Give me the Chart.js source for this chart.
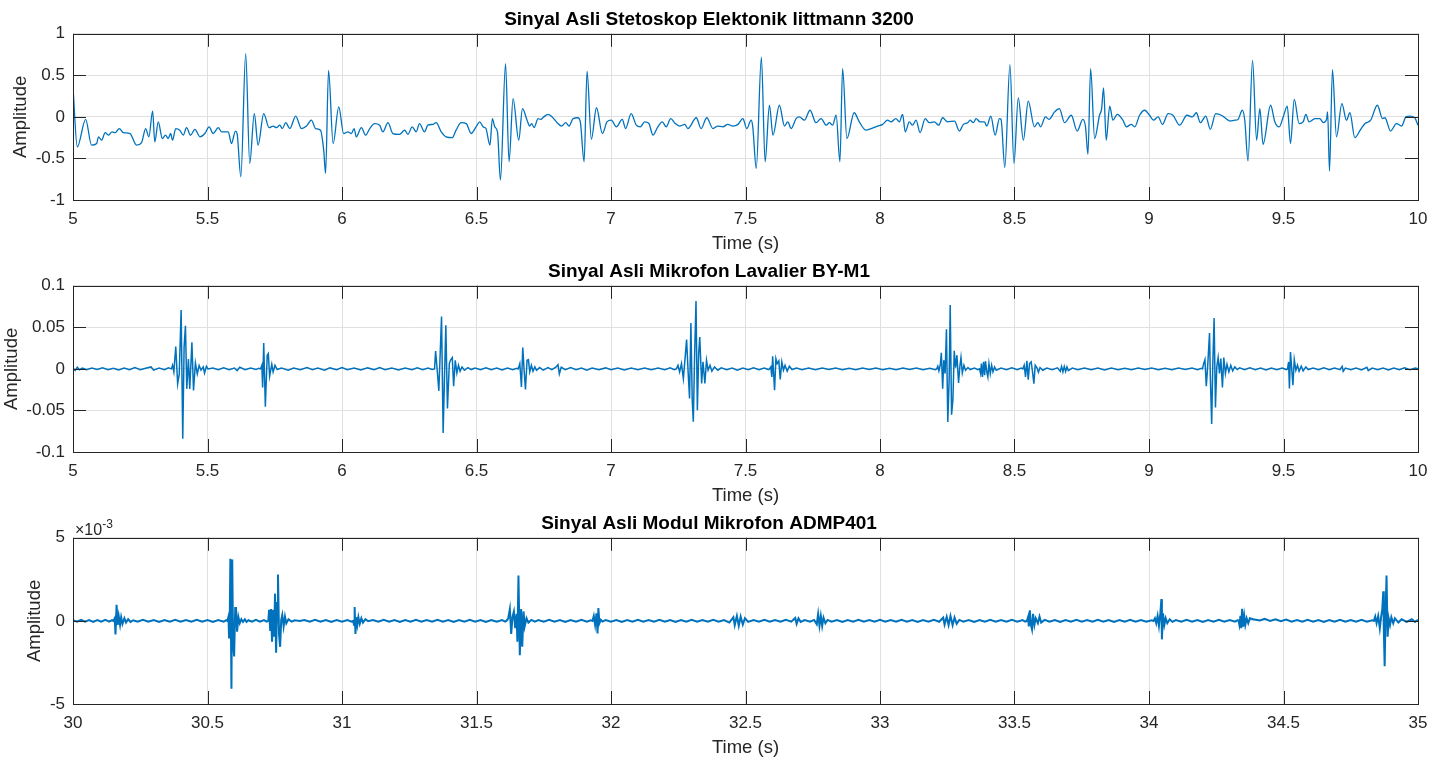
<!DOCTYPE html>
<html>
<head>
<meta charset="utf-8">
<title>Sinyal Asli</title>
<script src="https://cdn.jsdelivr.net/npm/chart.js@4.4.0/dist/chart.umd.min.js"></script>
<style>
  html, body { margin: 0; padding: 0; background: #fff; }
  body { width: 1447px; height: 762px; position: relative; overflow: hidden; }
  canvas { position: absolute; left: 0; }
</style>
</head>
<body>
<canvas id="chartSteto" width="1447" height="255" style="top:0px"></canvas>
<canvas id="chartLav" width="1447" height="255" style="top:252px"></canvas>
<canvas id="chartAdmp" width="1447" height="255" style="top:504px"></canvas>
<script>
// Sumbu waktu & label tick
const timeTicks1 = [5, 5.5, 6, 6.5, 7, 7.5, 8, 8.5, 9, 9.5, 10];
const timeLabels1 = ["5", "5.5", "6", "6.5", "7", "7.5", "8", "8.5", "9", "9.5", "10"];
const timeTicks3 = [30, 30.5, 31, 31.5, 32, 32.5, 33, 33.5, 34, 34.5, 35];
const timeLabels3 = ["30", "30.5", "31", "31.5", "32", "32.5", "33", "33.5", "34", "34.5", "35"];

const ampTicks1 = [-1, -0.5, 0, 0.5, 1];
const ampLabels1 = ["-1", "-0.5", "0", "0.5", "1"];
const ampTicks2 = [-0.1, -0.05, 0, 0.05, 0.1];
const ampLabels2 = ["-0.1", "-0.05", "0", "0.05", "0.1"];
const ampTicks3 = [-5, 0, 5];
const ampLabels3 = ["-5", "0", "5"];

// Sinyal stetoskop [waktu (s), amplitudo]
const stetoskop = [
  [5.000,0.35],[5.016,-0.36],[5.047,-0.03],[5.069,-0.34],[5.088,-0.32],[5.095,-0.24],[5.106,-0.28],[5.120,-0.19],
  [5.131,-0.22],[5.145,-0.18],[5.157,-0.19],[5.172,-0.14],[5.187,-0.19],[5.212,-0.20],[5.236,-0.34],[5.255,-0.31],
  [5.270,-0.14],[5.282,-0.24],[5.296,0.07],[5.304,-0.30],[5.317,-0.06],[5.332,-0.26],[5.344,-0.22],[5.354,-0.26],
  [5.363,-0.20],[5.370,-0.28],[5.382,-0.14],[5.397,-0.16],[5.410,-0.22],[5.422,-0.13],[5.437,-0.22],[5.453,-0.15],
  [5.472,-0.24],[5.490,-0.20],[5.506,-0.12],[5.521,-0.20],[5.540,-0.13],[5.552,-0.18],[5.577,-0.18],[5.589,-0.32],
  [5.604,-0.17],[5.610,-0.20],[5.624,-0.72],[5.642,0.76],[5.657,-0.56],[5.674,0.04],[5.688,-0.34],[5.709,0.04],
  [5.729,-0.13],[5.744,-0.11],[5.756,-0.13],[5.769,-0.10],[5.778,-0.14],[5.791,-0.07],[5.806,-0.14],[5.828,0.01],
  [5.849,-0.14],[5.868,-0.11],[5.886,-0.04],[5.902,-0.14],[5.920,-0.16],[5.932,-0.40],[5.939,-0.68],[5.950,0.56],
  [5.967,-0.32],[5.988,0.12],[6.006,-0.20],[6.022,-0.18],[6.035,-0.20],[6.045,-0.14],[6.053,-0.24],[6.072,-0.13],
  [6.088,-0.22],[6.103,-0.14],[6.121,-0.08],[6.140,-0.10],[6.152,-0.18],[6.171,-0.07],[6.189,-0.20],[6.214,-0.21],
  [6.233,-0.16],[6.245,-0.21],[6.261,-0.12],[6.276,-0.18],[6.288,-0.08],[6.307,-0.18],[6.319,-0.10],[6.338,-0.09],
  [6.350,-0.07],[6.369,-0.18],[6.387,-0.24],[6.410,-0.25],[6.424,-0.16],[6.443,-0.07],[6.462,-0.08],[6.480,-0.20],
  [6.500,-0.11],[6.512,-0.06],[6.525,-0.12],[6.535,-0.14],[6.550,-0.34],[6.559,-0.02],[6.568,-0.12],[6.578,-0.18],
  [6.589,-0.76],[6.608,0.64],[6.621,-0.54],[6.636,0.22],[6.657,-0.28],[6.671,0.10],[6.688,-0.04],[6.698,-0.11],
  [6.705,-0.08],[6.714,-0.13],[6.729,-0.02],[6.739,-0.03],[6.750,0.00],[6.766,0.03],[6.781,0.00],[6.800,-0.07],
  [6.816,-0.11],[6.832,-0.07],[6.844,-0.11],[6.859,-0.02],[6.877,-0.01],[6.886,-0.06],[6.900,-0.54],[6.911,0.55],
  [6.927,-0.27],[6.946,0.11],[6.968,-0.20],[6.985,-0.06],[7.001,-0.04],[7.020,-0.12],[7.042,-0.03],[7.054,-0.14],
  [7.075,0.04],[7.094,-0.10],[7.109,-0.12],[7.125,-0.06],[7.141,-0.08],[7.156,-0.22],[7.174,-0.12],[7.191,-0.06],
  [7.205,-0.12],[7.222,-0.02],[7.239,-0.08],[7.255,-0.11],[7.274,-0.09],[7.286,-0.14],[7.317,-0.01],[7.335,-0.14],
  [7.356,-0.01],[7.379,-0.14],[7.397,-0.11],[7.416,-0.12],[7.434,-0.09],[7.453,-0.11],[7.472,-0.09],[7.490,-0.02],
  [7.505,-0.14],[7.521,-0.04],[7.527,-0.12],[7.540,-0.62],[7.559,0.72],[7.573,-0.54],[7.589,0.14],[7.602,-0.22],
  [7.626,0.14],[7.645,-0.11],[7.657,-0.06],[7.670,-0.14],[7.688,-0.02],[7.700,0.00],[7.719,-0.04],[7.740,0.08],
  [7.762,-0.07],[7.781,-0.02],[7.800,-0.10],[7.812,-0.07],[7.824,-0.10],[7.837,0.02],[7.851,-0.54],[7.861,0.58],
  [7.877,-0.26],[7.904,0.05],[7.923,-0.06],[7.948,-0.16],[7.967,-0.14],[7.991,-0.11],[8.010,-0.09],[8.028,-0.04],
  [8.041,-0.06],[8.059,-0.02],[8.072,-0.06],[8.084,0.03],[8.094,-0.18],[8.109,-0.06],[8.121,-0.10],[8.134,-0.04],
  [8.149,-0.19],[8.168,-0.02],[8.183,-0.07],[8.202,-0.06],[8.218,-0.10],[8.233,-0.01],[8.251,-0.06],[8.277,-0.05],
  [8.295,-0.17],[8.310,-0.09],[8.326,-0.07],[8.335,-0.04],[8.347,-0.07],[8.357,-0.02],[8.372,-0.06],[8.388,-0.06],
  [8.397,-0.11],[8.412,0.01],[8.428,-0.22],[8.444,-0.02],[8.450,-0.03],[8.464,-0.61],[8.483,0.63],[8.498,-0.56],
  [8.514,0.23],[8.533,-0.28],[8.551,0.19],[8.574,-0.12],[8.587,-0.07],[8.597,-0.12],[8.615,0.00],[8.628,-0.03],
  [8.649,0.06],[8.667,0.10],[8.686,-0.07],[8.711,0.02],[8.733,-0.17],[8.754,-0.03],[8.764,-0.12],[8.773,-0.45],
  [8.783,0.58],[8.798,-0.26],[8.816,0.02],[8.824,0.10],[8.831,0.35],[8.841,-0.28],[8.854,0.13],[8.866,-0.04],
  [8.882,0.03],[8.903,-0.04],[8.916,-0.12],[8.934,-0.09],[8.947,-0.12],[8.965,0.02],[8.984,0.08],[9.002,0.02],
  [9.017,-0.04],[9.034,0.00],[9.050,-0.09],[9.071,0.04],[9.089,0.02],[9.114,-0.10],[9.141,0.02],[9.161,0.00],
  [9.176,0.05],[9.191,-0.07],[9.211,0.01],[9.228,-0.15],[9.248,0.04],[9.269,0.02],[9.282,-0.01],[9.300,-0.05],
  [9.319,-0.04],[9.331,-0.03],[9.347,0.08],[9.356,-0.04],[9.368,-0.53],[9.385,0.68],[9.400,-0.28],[9.412,0.10],
  [9.424,-0.33],[9.452,0.14],[9.468,-0.06],[9.484,-0.12],[9.499,0.00],[9.514,0.13],[9.526,-0.32],[9.540,0.21],
  [9.558,-0.08],[9.573,-0.06],[9.583,0.03],[9.595,-0.06],[9.617,-0.02],[9.635,-0.02],[9.648,-0.07],[9.660,-0.03],
  [9.664,0.06],[9.671,-0.65],[9.682,0.57],[9.697,-0.24],[9.717,0.16],[9.734,-0.04],[9.747,0.05],[9.765,-0.25],
  [9.787,-0.15],[9.803,-0.08],[9.824,-0.04],[9.849,0.14],[9.868,-0.02],[9.877,-0.01],[9.898,-0.17],[9.920,-0.08],
  [9.939,-0.11],[9.955,0.00],[9.970,0.01],[9.988,-0.01],[10.000,-0.10]
];

// Sinyal mikrofon lavalier [waktu (s), amplitudo]
const lavalier = [
  [5.000,0.001],[5.008,-0.002],[5.016,0.002],[5.024,-0.001],[5.035,0.001],[5.050,-0.001],[5.070,0.001],[5.090,-0.0008],
  [5.110,0.0012],[5.130,-0.001],[5.150,0.0008],[5.170,-0.0012],[5.190,0.001],[5.210,-0.001],[5.230,0.0015],[5.250,-0.001],
  [5.270,0.0008],[5.290,0.0024],[5.300,-0.0015],[5.320,0.001],[5.340,-0.001],[5.355,0.0012],
  [5.366,0],[5.370,0.0044],[5.375,-0.0036],[5.382,0.027],[5.389,-0.018],[5.395,-0.006],[5.402,0.071],[5.408,-0.084],
  [5.413,0.026],[5.418,0.052],[5.423,-0.024],[5.429,0.012],[5.434,-0.024],[5.442,0.032],[5.448,-0.026],[5.455,0.007],
  [5.462,-0.006],[5.469,0.004],[5.476,-0.0016],[5.484,0.0024],[5.489,-0.005],[5.496,0.003],[5.502,0],
  [5.520,0.001],[5.540,-0.001],[5.560,0.0012],[5.580,-0.001],[5.600,0.001],[5.610,-0.002],[5.620,0.002],[5.640,-0.001],
  [5.660,0.001],[5.680,-0.0008],[5.690,0.0008],
  [5.697,0],[5.702,0.0044],[5.705,-0.0224],[5.709,0.031],[5.715,-0.0456],[5.722,0.0164],[5.726,0.0184],[5.731,-0.0088],
  [5.739,0.0056],[5.744,-0.0036],[5.751,0.0044],[5.759,-0.0008],
  [5.775,0.001],[5.800,-0.0015],[5.820,0.001],[5.845,-0.001],[5.870,0.0015],[5.890,-0.001],[5.910,0.001],[5.935,-0.0015],
  [5.955,0.0012],[5.980,-0.001],[6.000,0.0015],[6.020,-0.001],[6.045,0.001],[6.070,-0.0012],[6.095,0.0012],[6.120,-0.001],
  [6.140,0.0015],[6.160,-0.001],[6.185,0.001],[6.210,-0.0012],[6.235,0.001],[6.260,-0.001],[6.280,0.0012],[6.300,-0.001],
  [6.320,0.001],[6.335,-0.0008],
  [6.344,0],[6.348,0.0216],[6.354,-0.0016],[6.360,-0.0264],[6.365,0.0184],[6.370,0.063],[6.376,-0.077],[6.381,-0.0096],
  [6.386,0.0524],[6.392,-0.0476],[6.399,0.0064],[6.403,0.0104],[6.410,0.0136],[6.415,-0.0208],[6.421,0.0104],[6.427,-0.0048],
  [6.433,0.0044],[6.439,-0.0028],[6.446,0.0024],[6.455,-0.0016],[6.468,0.0016],[6.480,-0.0008],
  [6.495,0.001],[6.515,-0.001],[6.535,0.0012],[6.555,-0.001],[6.575,0.001],[6.595,-0.0012],[6.615,0.001],[6.635,-0.001],
  [6.650,0.0008],
  [6.655,0],[6.661,0.0064],[6.667,-0.0216],[6.672,0.0256],[6.677,-0.0016],[6.682,-0.0248],[6.688,0.0104],[6.693,0.0112],
  [6.698,-0.0036],[6.704,0.0044],[6.710,-0.0028],[6.717,0.0024],[6.723,-0.0016],[6.735,0.0016],[6.748,-0.0016],[6.766,0.0016],
  [6.780,-0.001],[6.795,0.002],[6.803,0.005],[6.808,-0.006],[6.815,0.002],[6.830,-0.001],[6.850,0.0015],[6.870,-0.001],
  [6.890,0.001],[6.910,-0.0015],[6.930,0.001],[6.955,-0.001],[6.980,0.0012],[7.000,-0.001],[7.025,0.001],[7.050,-0.0012],
  [7.075,0.001],[7.100,-0.001],[7.125,0.0012],[7.150,-0.001],[7.175,0.001],[7.200,-0.001],[7.220,0.0012],[7.235,-0.001],
  [7.243,0],[7.249,0.0044],[7.255,-0.0036],[7.262,0.0064],[7.269,-0.0116],[7.275,0.0112],[7.281,0.0352],[7.287,-0.0056],
  [7.292,-0.0356],[7.297,0.0552],[7.302,-0.0376],[7.306,-0.0636],[7.311,0.0184],[7.316,0.0816],[7.321,-0.0496],[7.326,0.0184],
  [7.330,0.0384],[7.337,-0.0176],[7.342,0.0084],[7.349,-0.0176],[7.355,0.0104],[7.361,-0.0016],[7.368,0.0044],[7.375,-0.0028],
  [7.385,0.0024],[7.397,-0.0016],
  [7.410,0.0012],[7.430,-0.001],[7.450,0.001],[7.470,-0.0015],[7.490,0.001],[7.510,-0.001],[7.530,0.0012],[7.550,-0.001],
  [7.570,0.001],[7.585,-0.0008],
  [7.589,0],[7.594,0.0024],[7.598,-0.0096],[7.601,0.0152],[7.608,-0.0256],[7.613,0.0124],[7.618,0.0064],[7.624,0.0096],
  [7.629,-0.0128],[7.635,0.0084],[7.641,-0.0016],[7.647,0.0044],[7.655,-0.0028],[7.663,0.0032],[7.673,-0.0008],
  [7.690,0.001],[7.710,-0.001],[7.735,0.0012],[7.760,-0.001],[7.785,0.001],[7.810,-0.0008],[7.835,0.001],[7.860,-0.001],
  [7.885,0.0008],[7.910,-0.001],[7.935,0.001],[7.960,-0.0008],[7.985,0.001],[8.010,-0.001],[8.035,0.0008],[8.060,-0.001],
  [8.085,0.001],[8.110,-0.0008],[8.135,0.001],[8.160,-0.001],[8.185,0.0008],[8.205,-0.001],
  [8.211,0],[8.215,0.0032],[8.219,-0.0024],[8.224,0.0044],[8.228,0.0193],[8.233,-0.0238],[8.237,0.0105],[8.242,-0.0056],
  [8.247,0.0476],[8.252,-0.064],[8.257,-0.0137],[8.261,0.077],[8.266,-0.0552],[8.271,-0.0371],[8.276,0.0218],[8.281,0.0016],
  [8.286,0.0165],[8.292,-0.0169],[8.297,0.0032],[8.301,0.0137],[8.306,-0.0048],[8.312,0.0044],[8.318,-0.0016],[8.327,0.0016],
  [8.335,-0.0008],[8.351,0.001],[8.364,-0.001],
  [8.370,0],[8.374,-0.0056],[8.377,0.0064],[8.381,-0.0097],[8.385,0.0085],[8.389,-0.0077],[8.392,0.0093],[8.397,-0.0036],
  [8.401,-0.0097],[8.405,0.0064],[8.410,-0.0056],[8.415,0.0044],[8.420,-0.0036],[8.426,0.0024],[8.432,-0.0016],
  [8.450,0.001],[8.470,-0.001],[8.490,0.0012],[8.510,-0.001],[8.525,0.001],
  [8.531,0],[8.536,0.0044],[8.541,-0.0097],[8.546,0.0097],[8.551,-0.0129],[8.556,0.0064],[8.562,0.0085],[8.567,-0.0036],
  [8.572,-0.0177],[8.577,0.0044],[8.583,0.0016],[8.589,-0.004],[8.595,0.0016],[8.605,-0.0016],
  [8.620,0.001],[8.640,-0.001],[8.660,0.0012],[8.670,-0.003],[8.675,0.003],[8.680,-0.0035],[8.685,0.003],[8.690,-0.003],
  [8.695,0.0025],[8.700,-0.002],[8.715,0.001],[8.735,-0.001],[8.760,0.0012],[8.785,-0.001],[8.810,0.001],[8.835,-0.0012],
  [8.860,0.001],[8.885,-0.001],[8.910,0.0008],[8.935,-0.001],[8.960,0.001],[8.985,-0.0008],[9.010,0.001],[9.035,-0.001],
  [9.060,0.0008],[9.085,-0.001],[9.110,0.001],[9.135,-0.0008],[9.160,0.001],[9.180,-0.001],[9.195,0.0008],
  [9.199,0],[9.203,0.0064],[9.208,0.0112],[9.213,-0.0208],[9.218,0.0024],[9.225,0.0432],[9.228,-0.0096],[9.233,-0.0664],
  [9.237,0.0024],[9.242,0.0612],[9.247,-0.0464],[9.252,0.0024],[9.257,0.0136],[9.262,-0.0056],[9.267,0.0124],[9.273,-0.0224],
  [9.278,0.0136],[9.284,-0.0056],[9.290,0.0056],[9.297,-0.0036],[9.304,0.0044],[9.311,-0.0024],[9.319,0.0024],[9.328,-0.0008],
  [9.337,0.0012],
  [9.355,-0.001],[9.375,0.0012],[9.395,-0.001],[9.415,0.001],[9.435,-0.0012],[9.455,0.001],[9.475,-0.001],[9.495,0.001],
  [9.510,-0.0008],
  [9.515,0],[9.519,0.0084],[9.522,-0.0236],[9.526,0.0204],[9.531,-0.0016],[9.535,-0.0196],[9.540,0.0112],[9.546,-0.0016],
  [9.552,0.0044],[9.558,-0.0028],[9.566,0.0032],[9.573,-0.0024],[9.583,0.0024],[9.592,-0.0008],
  [9.610,0.001],[9.630,-0.001],[9.650,0.0012],[9.670,-0.001],[9.690,0.001],[9.710,-0.001],[9.718,0.003],[9.722,-0.003],
  [9.730,0.001],[9.750,-0.001],[9.770,0.001],[9.790,-0.0012],[9.810,0.002],[9.815,-0.002],[9.830,0.001],[9.850,-0.001],
  [9.870,0.001],[9.890,-0.0012],[9.910,0.001],[9.930,-0.001],[9.950,0.0012],[9.970,-0.001],[9.990,0.001],[10.000,0]
];

// Sinyal modul ADMP401 [waktu (s), amplitudo x 10^-3]
const admp401 = [
  [30.000,0.05],[30.015,-0.05],[30.030,0.06],[30.045,-0.05],[30.060,0.05],[30.075,-0.06],[30.090,0.05],[30.105,-0.05],
  [30.120,0.06],[30.135,-0.05],[30.145,0.04],
  [30.150,0],[30.155,0.16],[30.158,-0.81],[30.162,0.97],[30.166,-0.24],[30.170,0.3],[30.175,-0.24],[30.179,0.22],
  [30.184,-0.18],[30.191,0.16],[30.197,-0.1],[30.205,0.1],[30.214,-0.06],[30.224,0.04],
  [30.240,-0.05],[30.260,0.06],[30.280,-0.05],[30.300,0.05],[30.320,-0.06],[30.340,0.05],[30.360,-0.05],[30.380,0.06],
  [30.400,-0.05],[30.420,0.05],[30.440,-0.05],[30.460,0.06],[30.480,-0.05],[30.500,0.05],[30.520,-0.06],[30.540,0.05],
  [30.560,-0.05],[30.570,0.04],
  [30.574,0],[30.578,0.26],[30.580,-1.0],[30.583,0.57],[30.585,3.74],[30.589,-4.08],[30.592,3.7],[30.595,-1.25],
  [30.599,-2.14],[30.603,0.77],[30.606,0.77],[30.610,-0.65],[30.615,0.22],[30.620,-0.14],[30.626,0.1],[30.632,-0.06],
  [30.639,0.1],[30.645,-0.06],[30.652,0.04],
  [30.665,-0.05],[30.680,0.06],[30.695,-0.05],[30.710,0.05],[30.720,-0.04],
  [30.726,0],[30.729,0.67],[30.733,-0.55],[30.736,0.71],[30.740,-1.25],[30.744,0.67],[30.748,-0.95],[30.751,1.64],
  [30.755,-1.92],[30.759,1.07],[30.762,2.79],[30.766,-0.85],[30.770,-1.56],[30.774,0.06],[30.778,0.36],[30.783,-0.34],
  [30.788,0.26],[30.793,-0.14],[30.801,0.1],[30.812,-0.04],[30.824,0.04],[30.843,0],
  [30.860,0.05],[30.880,-0.05],[30.900,0.06],[30.920,-0.05],[30.940,0.05],[30.960,-0.06],[30.980,0.05],[31.000,-0.05],
  [31.020,0.05],[31.035,-0.04],
  [31.041,0],[31.045,-0.24],[31.047,0.83],[31.050,-0.79],[31.053,0.22],[31.057,-0.24],[31.061,0.22],[31.066,-0.18],
  [31.072,0.16],[31.078,-0.1],[31.087,0.1],[31.097,-0.02],
  [31.115,0.05],[31.135,-0.05],[31.155,0.06],[31.175,-0.05],[31.195,0.05],[31.215,-0.06],[31.235,0.05],[31.255,-0.05],
  [31.275,0.06],[31.295,-0.05],[31.315,0.05],[31.335,-0.05],[31.355,0.06],[31.375,-0.05],[31.395,0.05],[31.415,-0.06],
  [31.435,0.05],[31.455,-0.05],[31.475,0.06],[31.495,-0.05],[31.515,0.05],[31.535,-0.06],[31.555,0.05],[31.575,-0.05],
  [31.595,0.05],[31.607,-0.04],
  [31.611,0],[31.618,0.16],[31.624,0.71],[31.629,-0.79],[31.634,0.26],[31.639,0.57],[31.644,-0.44],[31.649,0.42],
  [31.652,-1.25],[31.656,2.73],[31.661,-2.06],[31.666,0.71],[31.670,-1.56],[31.675,0.57],[31.679,-0.34],[31.686,0.16],
  [31.693,-0.1],[31.704,0.06],[31.717,-0.04],
  [31.730,0.05],[31.750,-0.05],[31.770,0.06],[31.790,-0.05],[31.810,0.05],[31.830,-0.06],[31.850,0.05],[31.870,-0.05],
  [31.890,0.06],[31.910,-0.05],[31.925,0.04],
  [31.931,0],[31.936,0.3],[31.941,-0.24],[31.946,0.46],[31.950,-0.75],[31.953,0.77],[31.957,-0.14],[31.962,0.06],
  [31.968,-0.04],
  [31.980,0.05],[32.000,-0.05],[32.020,0.05],[32.040,-0.06],[32.060,0.05],[32.080,-0.05],[32.100,0.06],[32.120,-0.05],
  [32.140,0.05],[32.160,-0.05],[32.180,0.06],[32.200,-0.05],[32.220,0.05],[32.240,-0.06],[32.260,0.05],[32.280,-0.05],
  [32.300,0.06],[32.320,-0.05],[32.340,0.05],[32.360,-0.05],[32.380,0.06],[32.400,-0.05],[32.420,0.05],[32.440,-0.1],
  [32.455,0.22],[32.460,-0.26],[32.468,0.3],[32.475,-0.3],[32.482,0.26],[32.490,-0.22],[32.498,0.16],[32.510,-0.06],
  [32.530,0.05],[32.550,-0.05],[32.570,0.06],[32.590,-0.05],[32.610,0.05],[32.630,-0.05],[32.650,0.06],[32.670,-0.05],
  [32.685,0.18],[32.690,-0.18],[32.697,0.15],[32.705,-0.06],[32.720,0.05],[32.740,-0.05],[32.755,0.06],
  [32.765,-0.2],[32.770,0.42],[32.775,-0.3],[32.780,0.3],[32.785,-0.3],[32.790,0.2],[32.797,-0.14],[32.805,0.06],
  [32.820,-0.05],[32.840,0.05],[32.860,-0.06],[32.880,0.05],[32.900,-0.05],[32.920,0.06],[32.940,-0.05],[32.960,0.05],
  [32.980,-0.05],[33.000,0.06],[33.020,-0.05],[33.040,0.05],[33.060,-0.05],[33.080,0.06],[33.100,-0.05],[33.120,0.05],
  [33.140,-0.06],[33.160,0.05],[33.180,-0.05],[33.200,0.06],[33.220,-0.05],
  [33.235,0.2],[33.240,-0.22],[33.248,0.25],[33.255,-0.25],[33.262,0.3],[33.270,-0.26],[33.277,0.2],[33.285,-0.18],
  [33.295,0.06],[33.310,-0.05],[33.330,0.05],[33.350,-0.06],[33.370,0.05],[33.390,-0.05],[33.410,0.06],[33.430,-0.05],
  [33.450,0.05],[33.470,-0.05],[33.490,0.06],[33.510,-0.05],[33.530,0.05],[33.540,-0.04],
  [33.546,0],[33.551,0.26],[33.553,-0.34],[33.557,0.63],[33.561,-0.24],[33.565,-0.51],[33.569,0.42],[33.574,-0.24],
  [33.579,0.16],[33.587,-0.14],[33.593,0.26],[33.599,-0.1],[33.612,0.06],
  [33.630,-0.05],[33.650,0.05],[33.670,-0.06],[33.690,0.05],[33.710,-0.05],[33.730,0.06],[33.750,-0.05],[33.770,0.05],
  [33.790,-0.05],[33.810,0.06],[33.830,-0.05],[33.850,0.05],[33.870,-0.06],[33.890,0.05],[33.910,-0.05],[33.930,0.06],
  [33.950,-0.05],[33.970,0.05],[33.990,-0.05],[34.010,0.04],
  [34.017,0],[34.022,0.16],[34.027,-0.14],[34.032,0.3],[34.037,-0.3],[34.042,0.42],[34.046,1.31],[34.048,-1.11],
  [34.052,0.46],[34.057,-0.24],[34.062,0.16],[34.068,-0.14],[34.077,0.1],[34.087,-0.06],
  [34.100,0.05],[34.120,-0.05],[34.140,0.06],[34.160,-0.05],[34.180,0.05],[34.200,-0.06],[34.220,0.05],[34.240,-0.05],
  [34.260,0.06],[34.280,-0.05],[34.300,0.05],[34.320,-0.05],[34.330,0.04],
  [34.333,0],[34.336,-0.24],[34.340,0.3],[34.343,-0.44],[34.346,0.73],[34.350,-0.34],[34.354,0.3],[34.358,-0.24],
  [34.363,0.16],[34.369,-0.14],[34.375,0.16],[34.387,0.1],[34.412,0.02],
  [34.430,0.12],[34.450,0.0],[34.470,0.1],[34.490,-0.02],[34.510,0.08],[34.530,-0.05],[34.550,0.05],[34.570,-0.05],
  [34.590,0.06],[34.610,-0.05],[34.630,0.05],[34.650,-0.06],[34.670,0.05],[34.690,-0.05],[34.710,0.06],[34.730,-0.05],
  [34.750,0.05],[34.770,-0.05],[34.790,0.06],[34.810,-0.05],[34.830,0.04],
  [34.836,0],[34.841,0.26],[34.846,-0.14],[34.852,0.3],[34.858,-0.44],[34.863,0.26],[34.867,0.67],[34.871,1.78],
  [34.873,-0.55],[34.876,-2.73],[34.880,0.87],[34.883,2.73],[34.887,-0.95],[34.891,0.16],[34.896,-0.24],[34.901,0.22],
  [34.908,-0.14],[34.914,0.16],[34.927,-0.1],[34.939,0.1],[34.958,-0.06],[34.977,0.1],[34.989,-0.06],[35.000,0.06]
];

Chart.defaults.font.family = "'Liberation Sans', Arial, Helvetica, sans-serif";
Chart.defaults.color = "#262626";

// Kotak sumbu ala MATLAB: bingkai + tick ke dalam di keempat sisi
const matlabBox = {
  id: "matlabBox",
  afterDraw(chart, args, opts) {
    const { ctx, chartArea: a, scales } = chart;
    const x = scales.x, y = scales.y;
    const len = 13;
    ctx.save();
    ctx.strokeStyle = "#262626";
    ctx.lineWidth = 1;
    ctx.beginPath();
    x.ticks.forEach((t) => {
      const px = Math.round(x.getPixelForValue(t.value)) + 0.5;
      ctx.moveTo(px, a.bottom);
      ctx.lineTo(px, a.bottom - len);
      ctx.moveTo(px, a.top);
      ctx.lineTo(px, a.top + len);
    });
    y.ticks.forEach((t) => {
      const py = Math.round(y.getPixelForValue(t.value)) + 0.5;
      ctx.moveTo(a.left, py);
      ctx.lineTo(a.left + len, py);
      ctx.moveTo(a.right, py);
      ctx.lineTo(a.right - len, py);
    });
    ctx.stroke();
    ctx.strokeRect(Math.round(a.left) + 0.5, Math.round(a.top) + 0.5, Math.round(a.width), Math.round(a.height));

    if (opts && opts.exponent) {
      ctx.fillStyle = "#262626";
      ctx.textBaseline = "alphabetic";
      ctx.textAlign = "left";
      ctx.font = "16px 'Liberation Sans', Arial, sans-serif";
      ctx.fillText("\u00d710", a.left + 2, a.top - 3);
      const w = ctx.measureText("\u00d710").width;
      ctx.font = "12px 'Liberation Sans', Arial, sans-serif";
      ctx.fillText(opts.exponent, a.left + 2 + w, a.top - 10);
    }
    ctx.restore();
  },
};

function buildPlot(canvasId, cfg) {
  const ctx = document.getElementById(canvasId).getContext("2d");
  return new Chart(ctx, {
    type: "line",
    data: {
      datasets: [
        {
          data: cfg.series,
          borderColor: "#0072BD",
          borderWidth: cfg.lineWidth,
          pointRadius: 0,
          fill: false,
          tension: cfg.smooth ? 0.4 : 0,
          cubicInterpolationMode: cfg.smooth ? "monotone" : "default",
        },
      ],
    },
    options: {
      responsive: false,
      animation: false,
      devicePixelRatio: 1,
      layout: { padding: { left: 0, right: 29, top: 0, bottom: 0 } },
      plugins: {
        legend: { display: false },
        tooltip: { enabled: false },
        title: {
          display: true,
          text: cfg.title,
          color: "#000",
          font: { size: 19, weight: "bold" },
          padding: { top: 8, bottom: 3 },
        },
        matlabBox: { exponent: cfg.exponent || null },
      },
      scales: {
        x: {
          type: "linear",
          min: cfg.xTicks[0],
          max: cfg.xTicks[cfg.xTicks.length - 1],
          afterBuildTicks: (s) => { s.ticks = cfg.xTicks.map((v) => ({ value: v })); },
          afterFit: (s) => { s.height = 55; },
          ticks: {
            autoSkip: false,
            maxRotation: 0,
            padding: 9,
            font: { size: 17 },
            callback: (v, i) => cfg.xLabels[i],
          },
          grid: { color: "#e0e0e0", drawTicks: false },
          border: { display: false },
          title: { display: true, text: "Time (s)", font: { size: 18.5 }, padding: { top: 0, bottom: 0 } },
        },
        y: {
          min: cfg.yTicks[0],
          max: cfg.yTicks[cfg.yTicks.length - 1],
          afterBuildTicks: (s) => { s.ticks = cfg.yTicks.map((v) => ({ value: v })); },
          afterFit: (s) => { s.width = 73; },
          ticks: {
            autoSkip: false,
            padding: 8,
            font: { size: 17 },
            callback: (v, i) => cfg.yLabels[i],
          },
          grid: { color: "#e0e0e0", drawTicks: false },
          border: { display: false },
          title: { display: true, text: "Amplitude", font: { size: 18.5 }, padding: { top: cfg.yTitlePad, bottom: 0 } },
        },
      },
    },
    plugins: [matlabBox],
  });
}

buildPlot("chartSteto", {
  title: "Sinyal Asli Stetoskop Elektonik littmann 3200",
  series: stetoskop,
  xTicks: timeTicks1, xLabels: timeLabels1,
  yTicks: ampTicks1, yLabels: ampLabels1,
  smooth: true, lineWidth: 1.3, yTitlePad: 10,
});

buildPlot("chartLav", {
  title: "Sinyal Asli Mikrofon Lavalier BY-M1",
  series: lavalier,
  xTicks: timeTicks1, xLabels: timeLabels1,
  yTicks: ampTicks2, yLabels: ampLabels2,
  smooth: false, lineWidth: 1.5, yTitlePad: 1,
});

buildPlot("chartAdmp", {
  title: "Sinyal Asli Modul Mikrofon ADMP401",
  series: admp401,
  xTicks: timeTicks3, xLabels: timeLabels3,
  yTicks: ampTicks3, yLabels: ampLabels3,
  smooth: false, lineWidth: 2, yTitlePad: 24,
  exponent: "-3",
});
</script>
</body>
</html>
